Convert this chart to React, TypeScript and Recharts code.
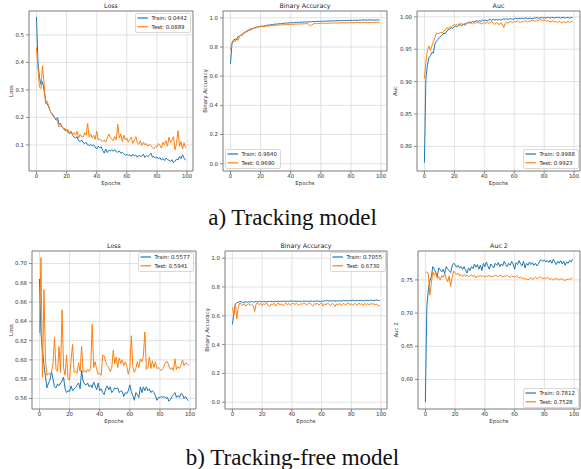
import React from "react";
import {
  LineChart,
  Line,
  XAxis,
  YAxis,
  CartesianGrid,
  ReferenceArea,
  Legend,
} from "recharts";

// epochs 0..99, shared by every panel
const EPOCHS = Array.from({ length: 100 }, (_, i) => i);
const X_TICKS = [0, 20, 40, 60, 80, 100];

// a) tracking model
const lossTrainA = [
  0.565, 0.400, 0.345, 0.320, 0.330, 0.300, 0.265, 0.250, 0.240, 0.225,
  0.215, 0.210, 0.200, 0.190, 0.200, 0.175, 0.178, 0.165, 0.160, 0.152,
  0.155, 0.145, 0.140, 0.148, 0.135, 0.128, 0.125, 0.130, 0.115, 0.112,
  0.118, 0.108, 0.104, 0.110, 0.100, 0.098, 0.102, 0.097, 0.100, 0.092,
  0.085, 0.095, 0.090, 0.093, 0.080, 0.070, 0.085, 0.072, 0.080, 0.078,
  0.082, 0.077, 0.083, 0.075, 0.073, 0.078, 0.070, 0.072, 0.068, 0.063,
  0.065, 0.062, 0.064, 0.058, 0.066, 0.060, 0.063, 0.055, 0.062, 0.058,
  0.060, 0.066, 0.054, 0.061, 0.057, 0.063, 0.070, 0.055, 0.058, 0.052,
  0.056, 0.049, 0.054, 0.045, 0.050, 0.043, 0.052, 0.047, 0.044, 0.040,
  0.046, 0.035, 0.041, 0.048, 0.045, 0.058, 0.050, 0.064, 0.052, 0.0442,
];
const lossTestA = [
  0.455, 0.380, 0.310, 0.305, 0.388, 0.330, 0.250, 0.258, 0.245, 0.225,
  0.215, 0.205, 0.198, 0.195, 0.185, 0.165, 0.172, 0.168, 0.158, 0.160,
  0.152, 0.155, 0.142, 0.150, 0.138, 0.145, 0.135, 0.150, 0.125, 0.138,
  0.130, 0.128, 0.145, 0.135, 0.178, 0.128, 0.140, 0.125, 0.135, 0.120,
  0.150, 0.118, 0.122, 0.115, 0.112, 0.118, 0.110, 0.125, 0.140, 0.128,
  0.120, 0.115, 0.130, 0.118, 0.175, 0.125, 0.140, 0.112, 0.135, 0.118,
  0.125, 0.110, 0.120, 0.128, 0.105, 0.118, 0.130, 0.108, 0.102, 0.115,
  0.098, 0.110, 0.100, 0.105, 0.095, 0.102, 0.098, 0.090, 0.086, 0.095,
  0.092, 0.105, 0.098, 0.088, 0.110, 0.100, 0.115, 0.095, 0.128, 0.108,
  0.118, 0.130, 0.082, 0.105, 0.152, 0.095, 0.112, 0.085, 0.108, 0.0889,
];
const accTrainA = [
  0.685, 0.820, 0.845, 0.855, 0.850, 0.872, 0.875, 0.880, 0.890, 0.898,
  0.905, 0.910, 0.915, 0.922, 0.925, 0.928, 0.932, 0.935, 0.938, 0.940,
  0.942, 0.944, 0.943, 0.946, 0.948, 0.952, 0.950, 0.954, 0.953, 0.956,
  0.958, 0.957, 0.960, 0.959, 0.962, 0.961, 0.963, 0.965, 0.964, 0.966,
  0.968, 0.965, 0.967, 0.969, 0.968, 0.970, 0.969, 0.971, 0.970, 0.972,
  0.971, 0.973, 0.972, 0.974, 0.973, 0.975, 0.974, 0.976, 0.975, 0.976,
  0.977, 0.976, 0.978, 0.977, 0.978, 0.979, 0.978, 0.979, 0.980, 0.979,
  0.981, 0.980, 0.981, 0.980, 0.982, 0.981, 0.982, 0.981, 0.983, 0.982,
  0.983, 0.982, 0.984, 0.983, 0.984, 0.983, 0.985, 0.984, 0.985, 0.986,
  0.985, 0.984, 0.986, 0.985, 0.986, 0.985, 0.984, 0.986, 0.985, 0.984,
];
const accTestA = [
  0.780, 0.830, 0.850, 0.835, 0.860, 0.845, 0.870, 0.885, 0.880, 0.895,
  0.900, 0.905, 0.912, 0.915, 0.920, 0.925, 0.930, 0.932, 0.935, 0.938,
  0.940, 0.942, 0.939, 0.944, 0.942, 0.945, 0.944, 0.947, 0.946, 0.950,
  0.948, 0.951, 0.950, 0.953, 0.951, 0.954, 0.952, 0.955, 0.953, 0.956,
  0.955, 0.957, 0.954, 0.958, 0.956, 0.959, 0.957, 0.960, 0.958, 0.960,
  0.959, 0.961, 0.955, 0.945, 0.952, 0.958, 0.961, 0.960, 0.962, 0.961,
  0.963, 0.962, 0.964, 0.963, 0.962, 0.964, 0.963, 0.965, 0.964, 0.966,
  0.965, 0.964, 0.966, 0.965, 0.967, 0.966, 0.965, 0.967, 0.966, 0.968,
  0.967, 0.966, 0.968, 0.967, 0.969, 0.968, 0.966, 0.968, 0.967, 0.969,
  0.968, 0.967, 0.969, 0.968, 0.970, 0.969, 0.967, 0.969, 0.968, 0.969,
];
const aucTrainA = [
  0.775, 0.905, 0.925, 0.937, 0.940, 0.945, 0.944, 0.958, 0.962, 0.965,
  0.968, 0.970, 0.972, 0.975, 0.974, 0.978, 0.980, 0.981, 0.983, 0.982,
  0.985, 0.986, 0.985, 0.987, 0.988, 0.986, 0.989, 0.987, 0.990, 0.991,
  0.992, 0.991, 0.993, 0.992, 0.993, 0.994, 0.993, 0.994, 0.993, 0.995,
  0.994, 0.995, 0.994, 0.995, 0.996, 0.995, 0.996, 0.995, 0.996, 0.995,
  0.996, 0.995, 0.996, 0.997, 0.996, 0.997, 0.996, 0.997, 0.997, 0.996,
  0.997, 0.998, 0.997, 0.998, 0.997, 0.998, 0.997, 0.998, 0.998, 0.997,
  0.998, 0.998, 0.997, 0.998, 0.998, 0.999, 0.998, 0.998, 0.999, 0.998,
  0.999, 0.998, 0.999, 0.999, 0.998, 0.999, 0.999, 0.998, 0.999, 0.999,
  0.999, 0.998, 0.999, 0.999, 0.998, 0.999, 0.999, 0.998, 0.999, 0.9988,
];
const aucTestA = [
  0.905, 0.930, 0.948, 0.955, 0.948, 0.955, 0.962, 0.968, 0.975, 0.974,
  0.975, 0.976, 0.975, 0.978, 0.980, 0.983, 0.982, 0.985, 0.984, 0.987,
  0.988, 0.987, 0.989, 0.988, 0.990, 0.989, 0.988, 0.990, 0.989, 0.991,
  0.990, 0.991, 0.989, 0.991, 0.990, 0.992, 0.990, 0.991, 0.989, 0.990,
  0.991, 0.990, 0.992, 0.990, 0.991, 0.993, 0.990, 0.988, 0.991, 0.990,
  0.988, 0.991, 0.989, 0.983, 0.990, 0.992, 0.990, 0.993, 0.992, 0.991,
  0.993, 0.992, 0.994, 0.993, 0.991, 0.993, 0.992, 0.994, 0.993, 0.992,
  0.994, 0.993, 0.995, 0.994, 0.993, 0.995, 0.994, 0.996, 0.995, 0.994,
  0.995, 0.994, 0.993, 0.994, 0.992, 0.993, 0.994, 0.992, 0.993, 0.991,
  0.993, 0.992, 0.990, 0.993, 0.991, 0.992, 0.993, 0.991, 0.993, 0.9923,
];

// b) tracking-free model
const lossTrainB = [
  0.684, 0.628, 0.610, 0.595, 0.582, 0.571, 0.576, 0.579, 0.588, 0.580,
  0.572, 0.571, 0.575, 0.573, 0.576, 0.578, 0.582, 0.570, 0.566, 0.568,
  0.567, 0.573, 0.568, 0.570, 0.571, 0.574, 0.576, 0.570, 0.589, 0.578,
  0.575, 0.574, 0.576, 0.572, 0.574, 0.571, 0.577, 0.573, 0.569, 0.576,
  0.568, 0.570, 0.566, 0.564, 0.570, 0.573, 0.569, 0.572, 0.566, 0.568,
  0.571, 0.570, 0.571, 0.566, 0.568, 0.567, 0.562, 0.566, 0.565, 0.568,
  0.574, 0.567, 0.563, 0.558, 0.566, 0.564, 0.561, 0.572, 0.566, 0.572,
  0.568, 0.572, 0.568, 0.570, 0.566, 0.568, 0.566, 0.563, 0.558, 0.561,
  0.561, 0.562, 0.561, 0.562, 0.560, 0.561, 0.557, 0.559, 0.562, 0.564,
  0.566, 0.561, 0.563, 0.561, 0.565, 0.564, 0.560, 0.562, 0.559, 0.5577,
];
const lossTestB = [
  0.628, 0.706, 0.582, 0.673, 0.600, 0.584, 0.586, 0.585, 0.587, 0.596,
  0.623, 0.590, 0.588, 0.614, 0.587, 0.652, 0.592, 0.584, 0.605, 0.580,
  0.579, 0.600, 0.616, 0.587, 0.588, 0.586, 0.597, 0.588, 0.614, 0.587,
  0.589, 0.587, 0.590, 0.588, 0.591, 0.637, 0.592, 0.598, 0.590, 0.585,
  0.586, 0.584, 0.605, 0.604, 0.598, 0.594, 0.592, 0.588, 0.591, 0.610,
  0.596, 0.603, 0.592, 0.602, 0.596, 0.600, 0.594, 0.598, 0.594, 0.585,
  0.592, 0.625, 0.593, 0.587, 0.591, 0.598, 0.592, 0.601, 0.598, 0.604,
  0.629, 0.590, 0.592, 0.603, 0.591, 0.599, 0.592, 0.598, 0.591, 0.592,
  0.590, 0.589, 0.591, 0.595, 0.598, 0.598, 0.593, 0.590, 0.592, 0.589,
  0.601, 0.590, 0.593, 0.591, 0.595, 0.600, 0.594, 0.597, 0.596, 0.5941,
];
const accTrainB = [
  0.540, 0.620, 0.680, 0.690, 0.695, 0.700, 0.698, 0.693, 0.695, 0.697,
  0.694, 0.698, 0.696, 0.699, 0.695, 0.697, 0.700, 0.696, 0.701, 0.699,
  0.697, 0.700, 0.698, 0.696, 0.700, 0.698, 0.701, 0.699, 0.697, 0.701,
  0.699, 0.702, 0.698, 0.701, 0.700, 0.703, 0.699, 0.702, 0.700, 0.704,
  0.701, 0.703, 0.700, 0.702, 0.701, 0.699, 0.702, 0.700, 0.703, 0.701,
  0.700, 0.702, 0.701, 0.703, 0.700, 0.702, 0.701, 0.704, 0.702, 0.700,
  0.703, 0.701, 0.705, 0.703, 0.706, 0.702, 0.704, 0.703, 0.705, 0.702,
  0.704, 0.703, 0.705, 0.702, 0.704, 0.706, 0.703, 0.705, 0.704, 0.707,
  0.705, 0.708, 0.706, 0.704, 0.707, 0.705, 0.708, 0.706, 0.704, 0.707,
  0.705, 0.708, 0.706, 0.709, 0.707, 0.705, 0.708, 0.710, 0.707, 0.7055,
];
const accTestB = [
  0.660, 0.600, 0.685, 0.580, 0.665, 0.690, 0.682, 0.672, 0.685, 0.668,
  0.675, 0.686, 0.670, 0.680, 0.672, 0.630, 0.684, 0.690, 0.676, 0.688,
  0.670, 0.684, 0.678, 0.690, 0.672, 0.665, 0.683, 0.676, 0.688, 0.668,
  0.682, 0.690, 0.675, 0.684, 0.670, 0.681, 0.690, 0.676, 0.686, 0.672,
  0.684, 0.688, 0.676, 0.690, 0.680, 0.674, 0.686, 0.678, 0.690, 0.682,
  0.675, 0.684, 0.691, 0.677, 0.668, 0.685, 0.679, 0.688, 0.673, 0.683,
  0.690, 0.668, 0.684, 0.676, 0.689, 0.680, 0.672, 0.686, 0.679, 0.665,
  0.683, 0.676, 0.688, 0.670, 0.681, 0.686, 0.674, 0.682, 0.690, 0.677,
  0.684, 0.672, 0.686, 0.680, 0.674, 0.688, 0.679, 0.683, 0.671, 0.686,
  0.678, 0.684, 0.675, 0.687, 0.680, 0.684, 0.676, 0.682, 0.669, 0.673,
];
const aucTrainB = [
  0.566, 0.710, 0.735, 0.748, 0.755, 0.770, 0.766, 0.761, 0.755, 0.768,
  0.765, 0.762, 0.766, 0.760, 0.770, 0.766, 0.764, 0.761, 0.771, 0.775,
  0.773, 0.769, 0.772, 0.768, 0.770, 0.766, 0.770, 0.765, 0.760, 0.768,
  0.764, 0.770, 0.767, 0.774, 0.769, 0.773, 0.766, 0.772, 0.764, 0.775,
  0.770, 0.777, 0.771, 0.766, 0.774, 0.771, 0.768, 0.775, 0.772, 0.776,
  0.770, 0.774, 0.771, 0.778, 0.773, 0.770, 0.775, 0.772, 0.778, 0.774,
  0.766, 0.776, 0.773, 0.779, 0.774, 0.771, 0.778, 0.768, 0.775, 0.772,
  0.777, 0.773, 0.776, 0.772, 0.775, 0.771, 0.774, 0.779, 0.780, 0.778,
  0.780, 0.777, 0.779, 0.776, 0.780, 0.775, 0.781, 0.777, 0.773, 0.778,
  0.775, 0.779, 0.774, 0.778, 0.772, 0.777, 0.775, 0.779, 0.777, 0.7812,
];
const aucTestB = [
  0.761, 0.762, 0.760, 0.727, 0.745, 0.762, 0.757, 0.762, 0.752, 0.755,
  0.750, 0.756, 0.754, 0.760, 0.752, 0.747, 0.756, 0.740, 0.754, 0.763,
  0.761, 0.758, 0.760, 0.756, 0.758, 0.755, 0.758, 0.756, 0.757, 0.755,
  0.756, 0.758, 0.755, 0.757, 0.753, 0.756, 0.755, 0.757, 0.755, 0.756,
  0.754, 0.756, 0.755, 0.757, 0.754, 0.756, 0.755, 0.757, 0.756, 0.755,
  0.757, 0.756, 0.754, 0.756, 0.755, 0.757, 0.755, 0.754, 0.756, 0.755,
  0.754, 0.756, 0.755, 0.753, 0.754, 0.752, 0.753, 0.751, 0.752, 0.750,
  0.752, 0.753, 0.751, 0.752, 0.754, 0.752, 0.753, 0.755, 0.753, 0.752,
  0.753, 0.752, 0.754, 0.752, 0.751, 0.752, 0.750, 0.752, 0.751, 0.752,
  0.750, 0.751, 0.752, 0.750, 0.749, 0.751, 0.750, 0.752, 0.751, 0.7528,
];

const COLORS = {
  train: "#1f77b4",
  test: "#ff7f0e",
  grid: "#d9d9d9",
  frame: "#6e6e6e",
  text: "#333333",
};
const FONT = "'DejaVu Sans', sans-serif";
const X_DOMAIN: [number, number] = [-4.95, 103.95];

// space around each plot frame (y axis, title, x axis, right edge)
const L = 28;
const T = 12;
const B = 16;
const R = 2;

interface PanelProps {
  x: number;
  y: number;
  w: number;
  h: number;
  title: string;
  yLabel: string;
  yGap: number;
  train: number[];
  test: number[];
  trainText: string;
  testText: string;
  yDomain: [number, number];
  yTicks: number[];
  digits: number;
  legend: [number, number];
}

function LegendBox({ trainText, testText }: { trainText: string; testText: string }) {
  return (
    <svg width={56} height={20} style={{ display: "block" }}>
      <rect x={0.5} y={0.5} width={55} height={19} rx={1.5} fill="#fff" fillOpacity={0.85} stroke="#cfcfcf" strokeWidth={0.8} />
      <line x1={2.5} x2={13} y1={5} y2={5} stroke={COLORS.train} strokeWidth={1.2} />
      <line x1={2.5} x2={13} y1={13.8} y2={13.8} stroke={COLORS.test} strokeWidth={1.2} />
      <text x={16.5} y={7} fontSize={5.4} fontFamily={FONT} fill="#222">{trainText}</text>
      <text x={16.5} y={15.8} fontSize={5.4} fontFamily={FONT} fill="#222">{testText}</text>
    </svg>
  );
}

function Panel(p: PanelProps) {
  const data = EPOCHS.map((epoch, i) => ({ epoch, train: p.train[i], test: p.test[i] }));
  const tickStyle = { fontSize: 5.4, fill: COLORS.text, fontFamily: FONT };
  return (
    <div style={{ position: "absolute", left: p.x - L, top: p.y - T }}>
      <LineChart
        width={p.w + L + R}
        height={p.h + T + B}
        data={data}
        margin={{ top: T, right: R, bottom: 0, left: 0 }}
      >
        <CartesianGrid stroke={COLORS.grid} strokeWidth={0.8} />
        <XAxis
          dataKey="epoch"
          type="number"
          domain={X_DOMAIN}
          ticks={X_TICKS}
          interval={0}
          allowDataOverflow
          height={B}
          tickSize={3}
          tickMargin={0}
          axisLine={false}
          tickLine={{ stroke: COLORS.frame, strokeWidth: 0.8 }}
          tick={tickStyle}
          label={{ value: "Epochs", position: "insideBottom", offset: 2, ...tickStyle }}
        />
        <YAxis
          type="number"
          domain={p.yDomain}
          ticks={p.yTicks}
          interval={0}
          allowDataOverflow
          width={L}
          tickSize={3}
          tickMargin={2}
          axisLine={false}
          tickLine={{ stroke: COLORS.frame, strokeWidth: 0.8 }}
          tick={tickStyle}
          tickFormatter={(v: number) => v.toFixed(p.digits)}
          label={{
            value: p.yLabel,
            angle: -90,
            position: "insideLeft",
            offset: L - p.yGap,
            ...tickStyle,
            style: { textAnchor: "middle" },
          }}
        />
        <ReferenceArea
          x1={X_DOMAIN[0]}
          x2={X_DOMAIN[1]}
          y1={p.yDomain[0]}
          y2={p.yDomain[1]}
          fill="none"
          stroke={COLORS.frame}
          strokeWidth={0.8}
          ifOverflow="visible"
          label={{ value: p.title, position: "top", offset: 3.5, fontSize: 6.3, fill: "#222", fontFamily: FONT }}
        />
        <Line type="linear" dataKey="train" stroke={COLORS.train} strokeWidth={1} dot={false} isAnimationActive={false} />
        <Line type="linear" dataKey="test" stroke={COLORS.test} strokeWidth={1} dot={false} isAnimationActive={false} />
        <Legend
          layout="horizontal"
          verticalAlign="middle"
          align="center"
          wrapperStyle={{ left: L + p.legend[0], top: T + p.legend[1], width: 56, height: 20 }}
          content={() => <LegendBox trainText={p.trainText} testText={p.testText} />}
        />
      </LineChart>
    </div>
  );
}

const PANELS: PanelProps[] = [
  {
    x: 29, y: 11, w: 164, h: 160, title: "Loss", yLabel: "Loss", yGap: 18,
    train: lossTrainA, test: lossTestA, trainText: "Train: 0.0442", testText: "Test: 0.0889",
    yDomain: [0.005, 0.587], yTicks: [0.1, 0.2, 0.3, 0.4, 0.5], digits: 1, legend: [106, 2],
  },
  {
    x: 223, y: 11, w: 164, h: 160, title: "Binary Accuracy", yLabel: "Binary Accuracy", yGap: 18,
    train: accTrainA, test: accTestA, trainText: "Train: 0.9840", testText: "Test: 0.9690",
    yDomain: [-0.05, 1.047], yTicks: [0, 0.2, 0.4, 0.6, 0.8, 1.0], digits: 1, legend: [2, 138],
  },
  {
    x: 417, y: 11, w: 163, h: 160, title: "Auc", yLabel: "Auc", yGap: 22,
    train: aucTrainA, test: aucTestA, trainText: "Train: 0.9988", testText: "Test: 0.9923",
    yDomain: [0.762, 1.009], yTicks: [0.8, 0.85, 0.9, 0.95, 1.0], digits: 2, legend: [106, 138],
  },
  {
    x: 32, y: 251, w: 164, h: 158, title: "Loss", yLabel: "Loss", yGap: 21,
    train: lossTrainB, test: lossTestB, trainText: "Train: 0.5577", testText: "Test: 0.5941",
    yDomain: [0.549, 0.713], yTicks: [0.56, 0.58, 0.6, 0.62, 0.64, 0.66, 0.68, 0.7], digits: 2, legend: [106, 1],
  },
  {
    x: 225, y: 251, w: 162, h: 158, title: "Binary Accuracy", yLabel: "Binary Accuracy", yGap: 18,
    train: accTrainB, test: accTestB, trainText: "Train: 0.7055", testText: "Test: 0.6730",
    yDomain: [-0.047, 1.05], yTicks: [0, 0.2, 0.4, 0.6, 0.8, 1.0], digits: 1, legend: [105, 1],
  },
  {
    x: 418, y: 251, w: 162, h: 158, title: "Auc 2", yLabel: "Auc 2", yGap: 22,
    train: aucTrainB, test: aucTestB, trainText: "Train: 0.7812", testText: "Test: 0.7528",
    yDomain: [0.5555, 0.7935], yTicks: [0.6, 0.65, 0.7, 0.75], digits: 2, legend: [105, 137],
  },
];

const captionStyle = (top: number): React.CSSProperties => ({
  position: "absolute",
  left: 2,
  top,
  width: 581,
  textAlign: "center",
  fontFamily: "'Liberation Serif', 'Times New Roman', serif",
  fontSize: 23,
  lineHeight: "23px",
  color: "#111",
  whiteSpace: "nowrap",
});

export default function App() {
  return (
    <div
      style={{
        position: "absolute",
        left: 0,
        top: 0,
        width: 581,
        height: 469,
        background: "#fff",
        overflow: "hidden",
      }}
    >
      {PANELS.map((p, i) => (
        <Panel key={i} {...p} />
      ))}
      <div style={captionStyle(206)}>a) Tracking model</div>
      <div style={captionStyle(446)}>b) Tracking-free model</div>
    </div>
  );
}
